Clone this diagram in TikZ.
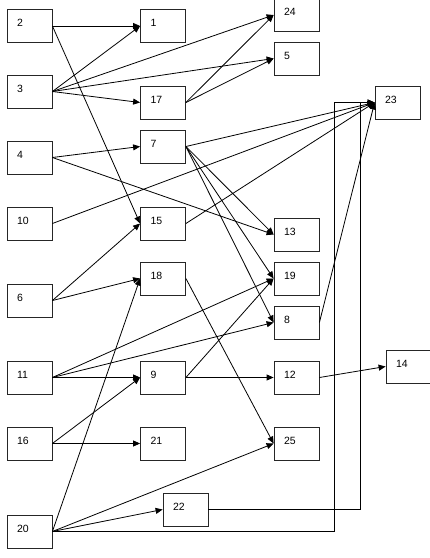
\documentclass[tikz,border=0pt]{standalone}
\usepackage{fontspec}
\setmainfont{Liberation Sans}
\usetikzlibrary{arrows.meta}
\begin{document}
\begin{tikzpicture}[x=1pt,y=-1pt,
  box/.style={draw=black!85, line width=0.8pt, rectangle, minimum width=45pt, minimum height=33pt,
    inner xsep=10pt, inner ysep=0pt, text width=25pt, align=left, text height=7.6pt, text depth=6pt,
    font=\fontsize{10.5}{12}\selectfont},
  arr/.style={line width=0.8pt, -{Triangle[length=7pt,width=6pt]}},
  ln/.style={line width=0.8pt}]
\useasboundingbox[fill=white] (0,0) rectangle (430,558);
% column 1
\node[box] (n2)  at (29.5,26)    {2};
\node[box] (n3)  at (29.5,91.5)  {3};
\node[box] (n4)  at (29.5,157.5) {4};
\node[box] (n10) at (29.5,223.5) {10};
\node[box] (n6)  at (29.5,300.5) {6};
\node[box] (n11) at (29.5,377.5) {11};
\node[box] (n16) at (29.5,443.5) {16};
\node[box] (n20) at (29.5,531.5) {20};
% column 2
\node[box] (n1)  at (163,26)    {1};
\node[box] (n17) at (163,102.5) {17};
\node[box] (n7)  at (163,146.5) {7};
\node[box] (n15) at (163,223.5) {15};
\node[box] (n18) at (163,278.5) {18};
\node[box] (n9)  at (163,377.5) {9};
\node[box] (n21) at (163,443.5) {21};
\node[box] (n22) at (185.5,509.5) {22};
% column 3
\node[box] (n24) at (296.5,15)    {24};
\node[box] (n5)  at (296.5,58.5)  {5};
\node[box] (n13) at (296.5,234.5) {13};
\node[box] (n19) at (296.5,278.5) {19};
\node[box] (n8)  at (296.5,322.5) {8};
\node[box] (n12) at (296.5,377.5) {12};
\node[box] (n25) at (296.5,443.5) {25};
% column 4
\node[box] (n23) at (397.5,102.5) {23};
\node[box] (n14) at (408.5,366.5) {14};
% bend points
\coordinate (b20) at (334,531.5);
\coordinate (b22) at (360,509.5);
% edges
\draw[arr] (n2.east) -- (n1.west);
\draw[arr] (n2.east) -- (n15.west);
\draw[arr] (n3.east) -- (n1.west);
\draw[arr] (n3.east) -- (n24.west);
\draw[arr] (n3.east) -- (n5.west);
\draw[arr] (n3.east) -- (n17.west);
\draw[arr] (n17.east) -- (n24.west);
\draw[arr] (n17.east) -- (n5.west);
\draw[arr] (n4.east) -- (n7.west);
\draw[arr] (n4.east) -- (n13.west);
\draw[arr] (n7.east) -- (n23.west);
\draw[arr] (n7.east) -- (n13.west);
\draw[arr] (n7.east) -- (n19.west);
\draw[arr] (n7.east) -- (n8.west);
\draw[arr] (n10.east) -- (n23.west);
\draw[arr] (n15.east) -- (n23.west);
\draw[arr] (n6.east) -- (n15.west);
\draw[arr] (n6.east) -- (n18.west);
\draw[arr] (n18.east) -- (n25.west);
\draw[arr] (n11.east) -- (n19.west);
\draw[arr] (n11.east) -- (n8.west);
\draw[arr] (n11.east) -- (n9.west);
\draw[arr] (n9.east) -- (n19.west);
\draw[arr] (n9.east) -- (n12.west);
\draw[arr] (n8.east) -- (n23.west);
\draw[arr] (n12.east) -- (n14.west);
\draw[arr] (n16.east) -- (n9.west);
\draw[arr] (n16.east) -- (n21.west);
\draw[arr] (n20.east) -- (n18.west);
\draw[arr] (n20.east) -- (n25.west);
\draw[arr] (n20.east) -- (n22.west);
\draw[arr] (n20.east) -- (b20) |- (n23.west);
\draw[arr] (n22.east) -- (b22) |- (n23.west);
\end{tikzpicture}
\end{document}
